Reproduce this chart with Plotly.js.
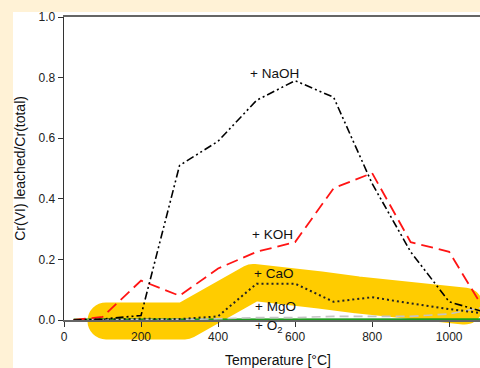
<!DOCTYPE html>
<html>
<head>
<meta charset="utf-8">
<script src="https://cdn.plot.ly/plotly-3.0.1.min.js"></script>
<style>
  html, body { margin: 0; padding: 0; background: #fff2d6; width: 480px; height: 368px; overflow: hidden; }
  #paper { position: absolute; left: 13px; top: 12px; width: 467px; height: 356px; background: #ffffff; }
  #chart { position: absolute; left: 0; top: 0; width: 480px; height: 368px; }
  .subplot.xy .js-line { stroke-linecap: round; stroke-linejoin: round; }
</style>
</head>
<body>
<div id="paper"></div>
<div id="chart"></div>
<script>
// Temperature [°C]
const temps = [25, 100, 200, 300, 400, 500, 600, 700, 800, 900, 1000, 1100];
// Cr(VI) leached / Cr(total)
const naoh = [0, 0.003, 0.015, 0.51, 0.59, 0.725, 0.79, 0.735, 0.45, 0.225, 0.06, 0.023];
const koh  = [0, 0.01, 0.13, 0.08, 0.17, 0.225, 0.257, 0.435, 0.485, 0.257, 0.225, 0.015];
const cao  = [0, 0.002, 0.004, 0.003, 0.012, 0.12, 0.12, 0.06, 0.075, 0.055, 0.036, 0.02];
const mgo  = [0, 0, 0.002, 0.002, 0.004, 0.008, 0.008, 0.012, 0.012, 0.012, 0.02, 0.045];
const o2   = [0.002, 0.002, 0.002, 0.002, 0.002, 0.003, 0.003, 0.003, 0.003, 0.003, 0.003, 0.003];
// highlighted band (yellow marker) path
const bandT = [109, 314, 491, 587, 665, 761, 899, 1040];
const bandV = [-0.003, -0.003, 0.124, 0.122, 0.099, 0.083, 0.063, 0.046];
// labels
const seriesLabels = ['+ NaOH', '+ KOH', '+ CaO', '+ MgO', '+ O<sub>2</sub>'];
const xTicks = [0, 200, 400, 600, 800, 1000];
const yTicks = [0, 0.2, 0.4, 0.6, 0.8, 1.0];
const xTitle = 'Temperature [°C]';
const yTitle = 'Cr(VI) leached/Cr(total)';

// layout geometry (px)
const plotH = 328;      // total plot area height
const mainH = 303;      // height of the 0..1 axis
const extra = plotH - mainH;
const dFrac = extra / plotH;
const yMinBand = -extra / mainH;

const font = 'Liberation Sans, Arial, sans-serif';

const traces = [
  { x: bandT, y: bandV, xaxis: 'x', yaxis: 'y', mode: 'lines',
    line: { color: '#ffcc00', width: 37 }, hoverinfo: 'skip' },
  { x: temps, y: o2, xaxis: 'x', yaxis: 'y2', mode: 'lines',
    line: { color: '#1e9e1e', width: 1.8 } },
  { x: temps, y: mgo, xaxis: 'x', yaxis: 'y2', mode: 'lines',
    line: { color: '#c4c4c4', width: 1.6, dash: '9px,5px' } },
  { x: temps, y: cao, xaxis: 'x', yaxis: 'y2', mode: 'lines',
    line: { color: '#222222', width: 2, dash: '2px,3px' } },
  { x: temps, y: koh, xaxis: 'x', yaxis: 'y2', mode: 'lines',
    line: { color: '#ff1414', width: 1.8, dash: '12px,6px' } },
  { x: temps, y: naoh, xaxis: 'x', yaxis: 'y2', mode: 'lines',
    line: { color: '#000000', width: 1.6, dash: '8px,3px,2px,3px,2px,3px' } }
];

const annPos = [[478, 0.815, 'y2'], [483, 0.282, 'y2'], [488, 0.152, 'y2'], [491, 0.046, 'y2'], [491, -0.022, 'y']];
const annotations = seriesLabels.map((t, i) => ({
  text: t, x: annPos[i][0], y: annPos[i][1], xref: 'x', yref: annPos[i][2],
  xanchor: 'left', yanchor: 'middle', showarrow: false,
  font: { family: font, size: 13.5, color: '#111' }
}));
annotations.push({
  text: xTitle, xref: 'paper', yref: 'paper', x: 0.514, y: -0.047,
  xanchor: 'center', yanchor: 'middle', showarrow: false,
  font: { family: font, size: 14, color: '#111' }
});
annotations.push({
  text: yTitle, xref: 'paper', yref: 'paper', x: -0.106, y: 0.54, textangle: -90,
  xanchor: 'center', yanchor: 'middle', showarrow: false,
  font: { family: font, size: 14, color: '#111' }
});

const layout = {
  width: 480, height: 368,
  margin: { l: 64, r: 0, t: 17, b: 23, pad: 0 },
  paper_bgcolor: 'rgba(0,0,0,0)',
  plot_bgcolor: 'rgba(0,0,0,0)',
  showlegend: false,
  font: { family: font, size: 12, color: '#222' },
  xaxis: {
    domain: [0, 1], range: [0, 1080], anchor: 'y2',
    tickvals: xTicks, ticks: 'outside', ticklen: 5, tickwidth: 1, tickcolor: '#333',
    showline: true, linecolor: '#666', linewidth: 1.6, mirror: true,
    showgrid: false, zeroline: false,
    tickfont: { family: font, size: 12, color: '#222' }
  },
  yaxis: {
    domain: [0, 1], range: [yMinBand, 1.0], visible: false, fixedrange: true
  },
  yaxis2: {
    domain: [dFrac, 1], range: [0, 1.0], anchor: 'x',
    tickvals: yTicks, tickformat: '.1f', ticks: 'outside', ticklen: 5, tickwidth: 1, tickcolor: '#333',
    showline: true, linecolor: '#333', linewidth: 1.3,
    showgrid: false, zeroline: false,
    tickfont: { family: font, size: 12, color: '#222' }
  },
  annotations: annotations
};

Plotly.newPlot('chart', traces, layout, { displayModeBar: false, staticPlot: true });
</script>
</body>
</html>
